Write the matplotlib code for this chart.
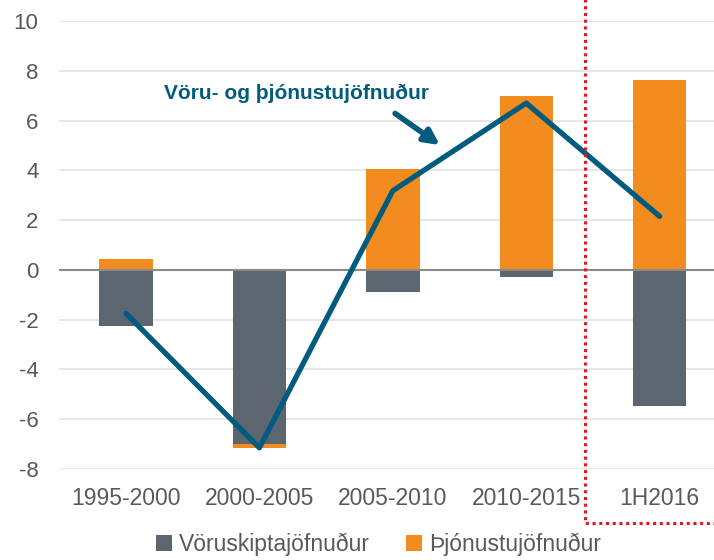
import matplotlib
matplotlib.use('Agg')
import matplotlib.pyplot as plt
import numpy as np

plt.rcParams['font.family'] = ['Liberation Sans', 'DejaVu Sans']
plt.rcParams['axes.unicode_minus'] = False

periods = ['1995-2000', '2000-2005', '2005-2010', '2010-2015', '1H2016']
goods = [-2.25, -6.98, -0.88, -0.3, -5.45]      # Vöruskiptajöfnuður
services = [0.45, -0.17, 4.05, 6.97, 7.62]      # Þjónustujöfnuður
total = [-1.75, -7.15, 3.18, 6.7, 2.15]         # Vöru- og þjónustujöfnuður
yticks = [-8, -6, -4, -2, 0, 2, 4, 6, 8, 10]

c_goods = '#5b6670'
c_serv = '#f28c1e'
c_line = '#005b7f'
c_text = '#595959'

fig = plt.figure(figsize=(7.14, 5.6), dpi=100)
ax = fig.add_axes([0.083, 0.1625, 0.925, 0.8])

x = np.arange(len(periods))
w = 0.4
goods = np.array(goods)
services = np.array(services)
# services stacked under goods when both negative, otherwise from zero
serv_bottom = np.where(services < 0, goods, 0)
ax.bar(x, goods, w, color=c_goods, zorder=2, label='Vöruskiptajöfnuður')
ax.bar(x, services, w, bottom=serv_bottom, color=c_serv, zorder=2, label='Þjónustujöfnuður')
ax.plot(x, total, color=c_line, lw=3.8, zorder=3, solid_capstyle='round')

ax.set_xlim(-0.5, 4.45)
ax.set_ylim(-8, 10)
ax.set_yticks(yticks)
ax.set_xticks(x)
ax.set_xticklabels(periods)
ax.tick_params(length=0, labelcolor=c_text)
ax.tick_params(axis='x', pad=13, labelsize=16.5)
ax.tick_params(axis='y', pad=15, labelsize=16)
ax.yaxis.grid(True, color='#e3e3e3', lw=1.2, zorder=0)
ax.axhline(0, color='#8a8a8a', lw=1.5, zorder=2.5)
for s in ax.spines.values():
    s.set_visible(False)

# red dotted frame around the latest period
ax.plot([3.44, 3.44, 4.6], [10.9, -10.15, -10.15], color='#e8141c', ls=(0, (1, 1.2)),
        lw=2.2, clip_on=False, zorder=4)

ax.annotate('Vöru- og þjónustujöfnuður', xy=(2.36, 5.0), xytext=(1.28, 7.1),
            ha='center', va='center', fontsize=15, fontweight='bold', color=c_line)
ax.annotate('', xy=(2.37, 4.95), xytext=(2.0, 6.35),
            arrowprops=dict(arrowstyle='-|>,head_width=0.45,head_length=0.9',
                            color=c_line, lw=4))

fig.legend(loc='lower center', bbox_to_anchor=(0.53, -0.03), ncol=2, frameon=False,
           fontsize=16.5, labelcolor=c_text, handlelength=0.7, handleheight=0.7,
           handletextpad=0.3, columnspacing=1.6)

fig.savefig('out.png', dpi=100)
